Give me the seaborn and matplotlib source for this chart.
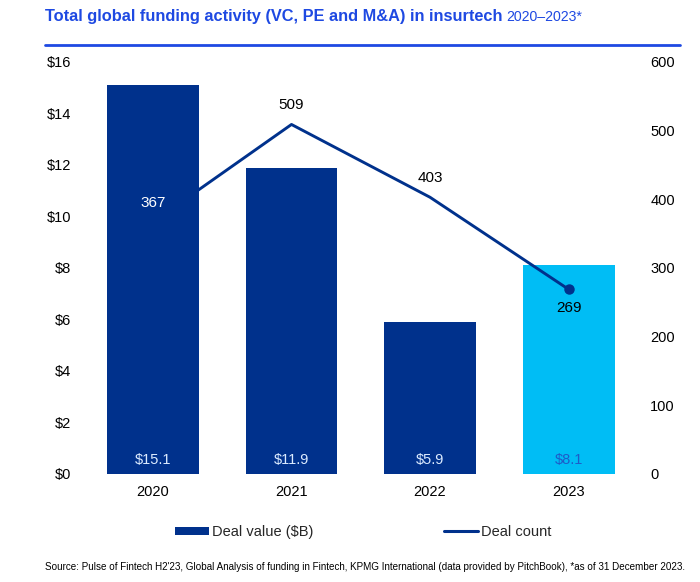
import matplotlib
matplotlib.use("Agg")
import matplotlib.pyplot as plt
import seaborn as sns
import pandas as pd
from matplotlib.patches import Patch
from matplotlib.lines import Line2D

years = ["2020", "2021", "2022", "2023"]
deal_value = [15.1, 11.9, 5.9, 8.1]
deal_count = [367, 509, 403, 269]
value_labels = ["$15.1", "$11.9", "$5.9", "$8.1"]
left_ticks = [0, 2, 4, 6, 8, 10, 12, 14, 16]
right_ticks = [0, 100, 200, 300, 400, 500, 600]

DARK = "#00318C"
LIGHT = "#00BDF5"
TITLE_BLUE = "#1E49E2"

sns.set_theme(style="white")
plt.rcParams["font.family"] = ["Liberation Sans", "DejaVu Sans"]

df = pd.DataFrame({"year": years, "value": deal_value, "count": deal_count})
df["kind"] = ["past", "past", "past", "current"]

fig = plt.figure(figsize=(7.0, 5.82), dpi=100)
ax = fig.add_axes([0.1097, 0.1856, 0.8113, 0.7079])
ax2 = ax.twinx()
ax.set_zorder(ax2.get_zorder() + 1)
ax.patch.set_visible(False)

sns.barplot(data=df, x="year", y="value", hue="kind",
            palette={"past": DARK, "current": LIGHT}, dodge=False,
            width=0.664, ax=ax, legend=False, saturation=1)

ax.set_xlim(-0.55, 3.55)
ax.set_ylim(0, 16)
ax2.set_ylim(0, 600)
ax.set_yticks(left_ticks)
ax.set_yticklabels([f"${t}" for t in left_ticks])
ax2.set_yticks(right_ticks)
ax2.set_yticklabels([str(t) for t in right_ticks])

# bar z-orders: 2020 bar above the line, 2023 bar below the line
bars = sorted(ax.patches, key=lambda p: p.get_x())
for i, b in enumerate(bars):
    b.set_zorder(3 if i < 3 else 1)
    b.set_edgecolor("none")

xs = list(range(len(years)))
ax.plot(xs, deal_count, color=DARK, lw=2.1, transform=ax2.transData, zorder=2,
        solid_joinstyle="round")
ax.plot([xs[-1]], [deal_count[-1]], marker="o", ms=6.5, color=DARK,
        transform=ax2.transData, zorder=2, linestyle="none")

for i, (c, lab) in enumerate(zip(deal_count, value_labels)):
    off = -19 if i == 3 else 19
    col = "white" if i == 0 else "black"
    ax.annotate(str(c), xy=(i, c), xycoords=ax2.transData,
                xytext=(0, off * 0.72), textcoords="offset points",
                ha="center", va="center", fontsize=11, color=col, zorder=5)
    ax.annotate(lab, xy=(i, 0), xytext=(0, 14 * 0.72), textcoords="offset points",
                ha="center", va="center", fontsize=10.5,
                color="#1E5CC8" if i == 3 else "#DCEBFF", zorder=5)

for a in (ax, ax2):
    for s in a.spines.values():
        s.set_visible(False)
    a.grid(False)
    a.tick_params(length=0, labelsize=10.5, colors="black")
ax.tick_params(axis="y", pad=4)
ax2.tick_params(axis="y", pad=4)
ax.tick_params(axis="x", pad=8, labelsize=10.5)
ax.set_xlabel("")
ax.set_ylabel("")
ax2.set_ylabel("")

# title
fig.text(45 / 700, 1 - 17 / 582, "Total global funding activity (VC, PE and M&A) in insurtech",
         fontsize=11.8, fontweight="bold", color=TITLE_BLUE, ha="left", va="center")
t = fig.texts[-1]
fig.canvas.draw()
bb = t.get_window_extent()
fig.text(bb.x1 / 700 + 4 / 700, 1 - 17 / 582, "2020\u20132023*", fontsize=10.2,
         color=TITLE_BLUE, ha="left", va="center")
fig.add_artist(Line2D([45 / 700, 680 / 700], [1 - 45 / 582] * 2, color=TITLE_BLUE, lw=2))

handles = [Patch(facecolor=DARK, edgecolor="none", label="Deal value ($B)"),
           Line2D([0], [0], color=DARK, lw=2.2, label="Deal count")]
fig.legend(handles=handles, loc="center", bbox_to_anchor=(363 / 700, 1 - 532 / 582),
           ncol=2, frameon=False, fontsize=10.5, handlelength=2.3, handleheight=0.5,
           handletextpad=0.2, columnspacing=9.0)

fig.text(45 / 700, 1 - 567 / 582,
         "Source: Pulse of Fintech H2'23, Global Analysis of funding in Fintech, KPMG International "
         "(data provided by PitchBook), *as of 31 December 2023.",
         fontsize=7.1, color="black", ha="left", va="center")

fig.savefig("out.png", dpi=100)
